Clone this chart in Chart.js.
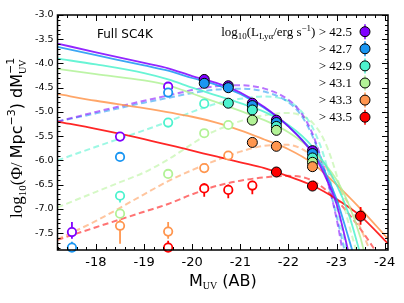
<!DOCTYPE html>
<html lang="en">
<head>
<meta charset="UTF-8">
<title>Full SC4K UV luminosity function</title>
<script src="https://cdn.jsdelivr.net/npm/chart.js"></script>
<style>
  body { margin: 0; background: #fff; }
  #wrap { width: 404px; height: 303px; position: relative; }
</style>
</head>
<body>
<div id="wrap"><canvas id="lf"></canvas></div>
<script>
// axes
const xTicks = [-18, -19, -20, -21, -22, -23, -24];
const yTicks = [-3.0, -3.5, -4.0, -4.5, -5.0, -5.5, -6.0, -6.5, -7.0, -7.5];
const xLimits = [-24.07, -17.2];
const yLimits = [-7.85, -3.0];

const cuts = ['> 42.5', '> 42.7', '> 42.9', '> 43.1', '> 43.3', '> 43.5'];
const colors = ['#8000ff', '#1a96f2', '#4df2ce', '#b2f296', '#ff964f', '#ff0000'];

// solid fits
const solid425 = [[-17.2,-3.59],[-18,-3.77],[-19,-3.99],[-19.5,-4.1],[-20,-4.26],[-20.5,-4.4],[-21,-4.6],[-21.5,-4.9],[-22,-5.3],[-22.5,-5.85],[-22.75,-6.3],[-23,-6.9],[-23.25,-7.9]];
const solid427 = [[-17.2,-3.66],[-18,-3.83],[-19,-4.04],[-19.5,-4.15],[-20,-4.3],[-20.5,-4.44],[-21,-4.63],[-21.5,-4.92],[-22,-5.3],[-22.5,-5.82],[-22.75,-6.22],[-23,-6.8],[-23.25,-7.6],[-23.4,-8.1]];
const solid429 = [[-17.2,-3.9],[-18,-4.02],[-19,-4.2],[-19.5,-4.33],[-20,-4.5],[-20.5,-4.66],[-21,-4.82],[-21.5,-5.0],[-22,-5.27],[-22.5,-5.72],[-23,-6.5],[-23.25,-7.1],[-23.5,-7.95]];
const solid431 = [[-17.2,-4.11],[-18,-4.22],[-19,-4.35],[-19.5,-4.45],[-20,-4.62],[-20.5,-4.8],[-21,-4.98],[-21.5,-5.17],[-22,-5.42],[-22.5,-5.8],[-23,-6.4],[-23.25,-6.9],[-23.5,-7.6],[-23.6,-8.0]];
const solid433 = [[-17.2,-4.63],[-18,-4.77],[-19,-4.92],[-20,-5.1],[-20.5,-5.22],[-21,-5.38],[-21.5,-5.57],[-22,-5.77],[-22.5,-6.06],[-23,-6.5],[-23.5,-7.0],[-24.07,-7.62]];
const solid435 = [[-17.2,-5.2],[-18,-5.35],[-19,-5.56],[-20,-5.8],[-20.5,-5.92],[-21,-6.04],[-21.5,-6.16],[-22,-6.33],[-22.5,-6.52],[-23,-6.8],[-23.5,-7.15],[-24.07,-7.72]];

// dashed fits
const dash425 = [[-17.2,-5.2],[-18,-5.0],[-19,-4.77],[-19.5,-4.66],[-20,-4.55],[-20.5,-4.47],[-21,-4.45],[-21.5,-4.52],[-22,-4.75],[-22.25,-5.0],[-22.5,-5.45],[-22.75,-6.2],[-23,-7.2],[-23.15,-8.0]];
const dash427 = [[-17.2,-5.2],[-18,-5.03],[-19,-4.81],[-19.5,-4.71],[-20,-4.61],[-20.5,-4.54],[-21,-4.52],[-21.5,-4.58],[-22,-4.8],[-22.25,-5.05],[-22.5,-5.5],[-22.75,-6.2],[-23,-7.15],[-23.2,-8.0]];
const dash429 = [[-17.2,-6.0],[-18,-5.72],[-18.5,-5.55],[-19,-5.38],[-19.5,-5.2],[-20,-5.0],[-20.5,-4.83],[-21,-4.73],[-21.5,-4.68],[-22,-4.78],[-22.25,-4.97],[-22.5,-5.32],[-22.75,-5.95],[-23,-6.95],[-23.25,-8.0]];
const dash431 = [[-17.2,-6.97],[-18,-6.65],[-18.5,-6.45],[-19,-6.25],[-19.5,-5.98],[-20,-5.66],[-20.25,-5.5],[-20.5,-5.38],[-20.75,-5.28],[-21,-5.19],[-21.5,-5.07],[-22,-5.02],[-22.25,-5.07],[-22.5,-5.22],[-22.75,-5.6],[-23,-6.3],[-23.25,-7.3],[-23.45,-8.0]];
const dash433 = [[-17.2,-7.63],[-18,-7.25],[-18.5,-6.98],[-19,-6.7],[-19.5,-6.43],[-20,-6.2],[-20.5,-6.0],[-21,-5.82],[-21.5,-5.7],[-22,-5.68],[-22.5,-5.9],[-22.75,-6.1],[-23,-6.5],[-23.25,-6.9],[-23.5,-7.4],[-23.75,-8.0]];
const dash435 = [[-17.2,-7.64],[-18,-7.38],[-18.5,-7.22],[-19,-7.06],[-19.5,-6.9],[-20,-6.7],[-20.5,-6.53],[-21,-6.42],[-21.5,-6.35],[-22,-6.32],[-22.5,-6.42],[-23,-6.82],[-23.5,-7.42],[-23.9,-8.0]];

// open symbols (faint bins)
const open425 = [[-17.5,-7.48],[-18.5,-5.51],[-19.5,-4.48]];
const open427 = [[-17.5,-7.8],[-18.5,-5.93],[-19.5,-4.6]];
const open429 = [[-18.5,-6.73],[-19.5,-5.22],[-20.25,-4.83]];
const open431 = [[-18.5,-7.1],[-19.5,-6.28],[-20.25,-5.44],[-20.75,-5.27]];
const open433 = [[-18.5,-7.35],[-19.5,-7.47],[-20.25,-6.16],[-20.75,-5.9]];
const open435 = [[-19.5,-7.8],[-20.25,-6.58],[-20.75,-6.61],[-21.25,-6.52]];

// filled symbols
const full425 = [[-20.25,-4.33],[-20.75,-4.46],[-21.25,-4.82],[-21.75,-5.17],[-22.5,-5.8]];
const full427 = [[-20.25,-4.41],[-20.75,-4.5],[-21.25,-4.87],[-21.75,-5.22],[-22.5,-5.86]];
const full429 = [[-20.75,-4.82],[-21.25,-4.96],[-21.75,-5.3],[-22.5,-5.95]];
const full431 = [[-21.25,-5.17],[-21.75,-5.38],[-22.5,-6.04]];
const full433 = [[-21.25,-5.63],[-21.75,-5.71],[-22.5,-6.13]];
const full435 = [[-21.75,-6.24],[-22.5,-6.53],[-23.5,-7.15]];

// error bars: [M, upper, lower]
const err425 = [[-17.5,-7.27,-7.62],[-18.5,-5.45,-5.57],[-19.5,-4.44,-4.52]];
const err427 = [[-17.5,-7.68,-7.85],[-18.5,-5.88,-5.98]];
const err429 = [[-18.5,-6.64,-6.87]];
const err431 = [[-18.5,-7.03,-7.18]];
const err433 = [[-18.5,-7.22,-7.72],[-19.5,-7.27,-7.62]];
const err435 = [[-19.5,-7.66,-7.85],[-20.25,-6.47,-6.75],[-20.75,-6.5,-6.78],[-21.25,-6.42,-6.7],[-21.75,-6.18,-6.3],[-22.5,-6.47,-6.6],[-23.5,-6.96,-7.33]];

const solids = [solid425, solid427, solid429, solid431, solid433, solid435];
const dashes = [dash425, dash427, dash429, dash431, dash433, dash435];
const opens = [open425, open427, open429, open431, open433, open435];
const fulls = [full425, full427, full429, full431, full433, full435];
const errs = [err425, err427, err429, err431, err433, err435];

function xy(arr) { return arr.map(p => ({ x: p[0], y: p[1] })); }
function bars(arr) {
  const out = [];
  arr.forEach(e => out.push({ x: e[0], y: e[1] }, { x: e[0], y: e[2] }, { x: e[0], y: null }));
  return out;
}
function alpha(hex, a) {
  const n = parseInt(hex.slice(1), 16);
  return `rgba(${n >> 16},${(n >> 8) & 255},${n & 255},${a})`;
}

const datasets = [];
colors.forEach((c, i) => {
  datasets.push({
    data: xy(dashes[i]), showLine: true, pointRadius: 0, borderColor: alpha(c, 0.55),
    borderWidth: 2, borderDash: [6, 3.5], cubicInterpolationMode: 'monotone', order: 40
  });
  datasets.push({
    data: xy(solids[i]), showLine: true, pointRadius: 0, borderColor: alpha(c, 0.85),
    borderWidth: 1.8, cubicInterpolationMode: 'monotone', order: 30
  });
  datasets.push({
    data: bars(errs[i]), showLine: true, spanGaps: false, pointRadius: 0,
    borderColor: c, borderWidth: 1.8, order: 20, clip: 8
  });
  datasets.push({
    data: xy(opens[i]), showLine: false, pointRadius: 4.2, pointBorderWidth: 1.8,
    pointBorderColor: c, pointBackgroundColor: '#fff', order: 10 - i, clip: 8
  });
  datasets.push({
    data: xy(fulls[i]), showLine: false, pointRadius: 5, pointBorderWidth: 1,
    pointBorderColor: '#000', pointBackgroundColor: c, order: 10 - i, clip: 8
  });
});

const SANS = '"DejaVu Sans"';
const SERIF = '"Liberation Serif"';

// text runs with sub/superscripts
function runWidth(ctx, parts) {
  let w = 0;
  parts.forEach(p => { ctx.font = p.f; w += p.stack ? 0 : ctx.measureText(p.t).width; });
  return w;
}
function drawRun(ctx, parts, x, y) {
  parts.forEach(p => {
    ctx.font = p.f;
    ctx.fillText(p.t, x, y + (p.dy || 0));
    if (!p.stack) x += ctx.measureText(p.t).width;
  });
  return x;
}

const frame = {
  id: 'frame',
  afterDraw(chart) {
    const { ctx, chartArea: a, scales: { x, y } } = chart;
    ctx.save();
    ctx.strokeStyle = '#000';
    ctx.lineWidth = 1;
    ctx.beginPath();
    // x ticks top and bottom
    for (let k = -120; k <= -86; k++) {
      const v = k * 0.2;
      if (v > xLimits[1] || v < xLimits[0]) continue;
      const major = Math.abs(v - Math.round(v)) < 1e-6;
      const len = major ? 6 : 3;
      const px = Math.round(x.getPixelForValue(v)) + 0.5;
      ctx.moveTo(px, a.bottom); ctx.lineTo(px, a.bottom - len);
      ctx.moveTo(px, a.top); ctx.lineTo(px, a.top + len);
    }
    // y ticks left and right
    for (let k = -78; k <= -30; k++) {
      const v = k * 0.1;
      const major = k % 5 === 0;
      const len = major ? 6 : 3;
      const py = Math.round(y.getPixelForValue(v)) + 0.5;
      ctx.moveTo(a.left, py); ctx.lineTo(a.left + len, py);
      ctx.moveTo(a.right, py); ctx.lineTo(a.right - len, py);
    }
    ctx.stroke();
    ctx.lineWidth = 1.5;
    ctx.strokeRect(a.left, a.top, a.right - a.left, a.bottom - a.top);

    ctx.fillStyle = '#000';
    ctx.textBaseline = 'alphabetic';
    ctx.textAlign = 'left';
    // panel label
    ctx.font = `12px ${SANS}`;
    ctx.fillText('Full SC4K', 97, 38);

    // legend
    const lx = 365, ly0 = 31.7, step = 17.1, right = 352;
    cuts.forEach((txt, i) => {
      const yy = ly0 + i * step;
      let parts;
      if (i === 0) {
        parts = [
          { t: 'log', f: `13px ${SERIF}` },
          { t: '10', f: `9px ${SERIF}`, dy: 3 },
          { t: '(L', f: `13px ${SERIF}` },
          { t: 'Lyα', f: `9px ${SERIF}`, dy: 3 },
          { t: '/erg s', f: `13px ${SERIF}` },
          { t: '−1', f: `9px ${SERIF}`, dy: -5 },
          { t: ') ' + txt, f: `13px ${SERIF}` }
        ];
      } else {
        parts = [{ t: txt, f: `13px ${SERIF}` }];
      }
      const w = runWidth(ctx, parts);
      drawRun(ctx, parts, right - w, yy + 4);
      ctx.strokeStyle = colors[i];
      ctx.lineWidth = 1.5;
      ctx.beginPath(); ctx.moveTo(lx, yy - 7.5); ctx.lineTo(lx, yy + 7.5); ctx.stroke();
      ctx.beginPath(); ctx.arc(lx, yy, 5, 0, Math.PI * 2);
      ctx.fillStyle = colors[i]; ctx.fill();
      ctx.strokeStyle = '#000'; ctx.lineWidth = 1; ctx.stroke();
      ctx.fillStyle = '#000';
    });

    // x title
    const xt = [
      { t: 'M', f: `16px ${SANS}` },
      { t: 'UV', f: `10px ${SERIF}`, dy: 3 },
      { t: ' (AB)', f: `16px ${SANS}` }
    ];
    const xw = runWidth(ctx, xt);
    drawRun(ctx, xt, (a.left + a.right) / 2 - xw / 2, 286);

    // y title
    ctx.translate(22, 218);
    ctx.rotate(-Math.PI / 2);
    const yt = [
      { t: 'log', f: `17px ${SERIF}` },
      { t: '10', f: `11px ${SERIF}`, dy: 4 },
      { t: '(Φ/ ', f: `17px ${SERIF}` },
      { t: 'Mpc', f: `16px ${SANS}` },
      { t: '−3', f: `11px ${SANS}`, dy: -7 },
      { t: ') dM', f: `16px ${SANS}` },
      { t: '−1', f: `11px ${SANS}`, dy: -8, stack: true },
      { t: 'UV', f: `10px ${SERIF}`, dy: 4 }
    ];
    drawRun(ctx, yt, 0, 0);
    ctx.restore();
  }
};

new Chart(document.getElementById('lf'), {
  type: 'scatter',
  data: { datasets },
  options: {
    responsive: true,
    maintainAspectRatio: false,
    animation: false,
    events: [],
    layout: { padding: { top: 15, right: 16, left: 0, bottom: 0 } },
    plugins: { legend: { display: false }, tooltip: { enabled: false } },
    scales: {
      x: {
        type: 'linear', reverse: true, min: xLimits[0], max: xLimits[1],
        grid: { display: false, drawTicks: false }, border: { display: false },
        afterBuildTicks: s => { s.ticks = xTicks.map(v => ({ value: v })); },
        afterFit: s => { s.height = 53; },
        ticks: { color: '#000', padding: 5, font: { family: 'DejaVu Sans', size: 13 }, callback: v => String(v) }
      },
      y: {
        type: 'linear', min: yLimits[0], max: yLimits[1],
        grid: { display: false, drawTicks: false }, border: { display: false },
        afterBuildTicks: s => { s.ticks = yTicks.map(v => ({ value: v })); },
        afterFit: s => { s.width = 57.5; },
        ticks: { color: '#000', padding: 4, font: { family: 'DejaVu Sans', size: 9.5 }, callback: v => v.toFixed(1) }
      }
    }
  },
  plugins: [frame]
});
</script>
</body>
</html>
